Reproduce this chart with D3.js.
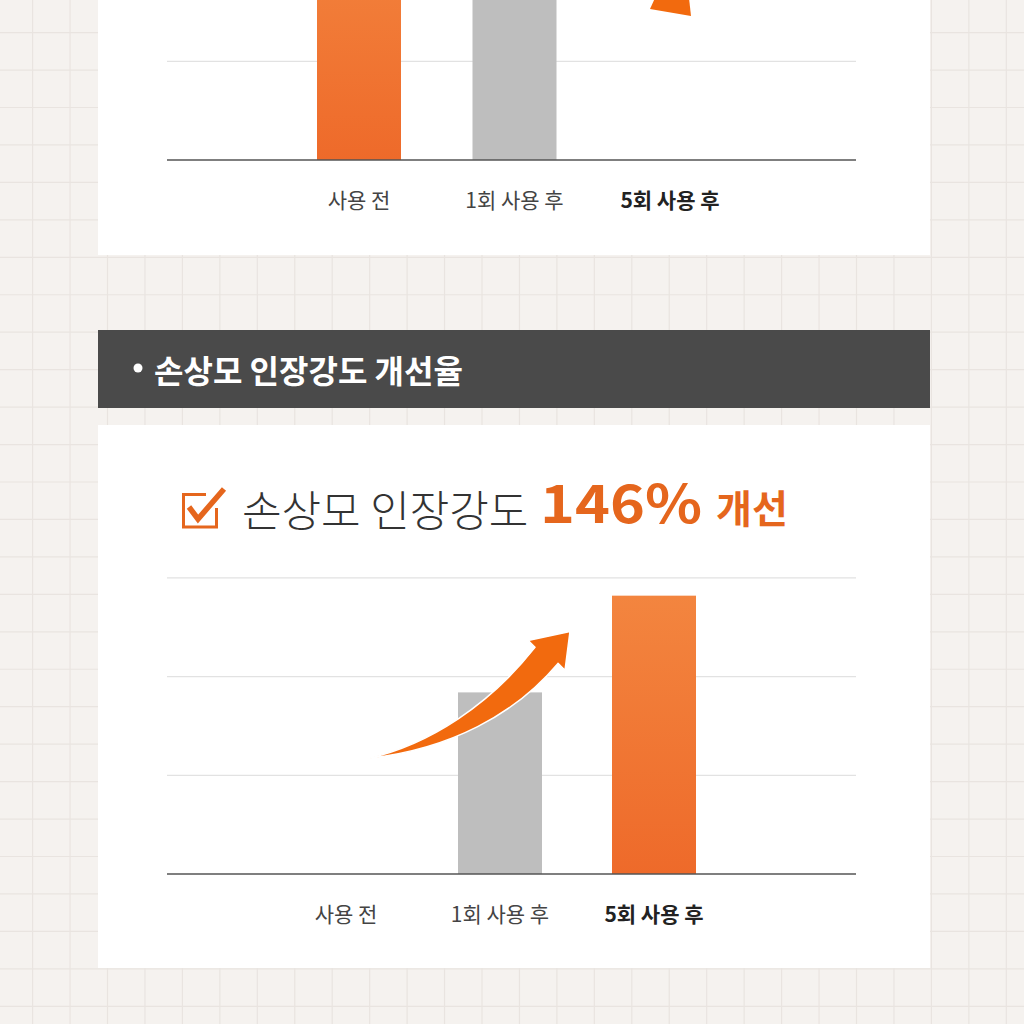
<!DOCTYPE html>
<html>
<head>
<meta charset="utf-8">
<script src="https://cdn.jsdelivr.net/npm/d3@7"></script>
<style>
  html, body { margin: 0; padding: 0; background: #f5f2ef; }
  svg { display: block; }
  text { font-family: "Noto Sans CJK KR", "Noto Sans", sans-serif; }
</style>
</head>
<body>
<svg id="chart" width="1024" height="1024"></svg>
<script>
// categories + values (units = gridline steps)
const categories = ['사용 전', '1회 사용 후', '5회 사용 후'];
const topValues = [2.4, 2.0, 0];      // upper chart, bars run off the top
const tensileValues = [0, 1.84, 2.82]; // 손상모 인장강도
const barColors = ['orange', 'gray', 'orange'];
const tensileColors = ['none', 'gray', 'orange'];
const yTicks = [1, 2, 3];

const headerTitle = '손상모 인장강도 개선율';
const chartTitle = '손상모 인장강도';
const chartRate = '146%';
const chartRateWord = '개선';

const width = 1024, height = 1024;
const svg = d3.select('#chart');

const defs = svg.append('defs');
const og = defs.append('linearGradient').attr('id', 'orangeGrad')
    .attr('x1', 0).attr('y1', 0).attr('x2', 0).attr('y2', 1);
og.append('stop').attr('offset', '0%').attr('stop-color', '#f3853f');
og.append('stop').attr('offset', '100%').attr('stop-color', '#ee6a2a');

const fill = c => c === 'orange' ? 'url(#orangeGrad)' : c === 'gray' ? '#bebebe' : 'none';

// grid paper background
const cell = 37.45, off = 32.6;
const grid = svg.append('g').attr('stroke', '#e9e4e0').attr('stroke-width', 1.2);
d3.range(off - cell, width, cell).forEach(v => {
  grid.append('line').attr('x1', v).attr('x2', v).attr('y1', 0).attr('y2', height);
  grid.append('line').attr('y1', v).attr('y2', v).attr('x1', 0).attr('x2', width);
});

// panels
svg.append('rect').attr('x', 98).attr('y', -10).attr('width', 832).attr('height', 265).attr('fill', '#fff');
svg.append('rect').attr('x', 98).attr('y', 330).attr('width', 832).attr('height', 78).attr('fill', '#4a4a4a');
svg.append('rect').attr('x', 98).attr('y', 425).attr('width', 832).attr('height', 543).attr('fill', '#fff');

// header bar
svg.append('circle').attr('cx', 138).attr('cy', 368).attr('r', 4.5).attr('fill', '#fff');
svg.append('text').attr('x', 154).attr('y', 383)
    .attr('font-size', 32).attr('font-weight', 700).attr('fill', '#fff')
    .text(headerTitle);

const yStep = 98.7;
const y = d3.scaleLinear().domain([0, 3]).range([0, 3 * yStep]);
const barW = 84;

function drawChart(baseY, xScale, values, colors, tickList) {
  const g = svg.append('g');
  g.selectAll('line.grid').data(tickList).join('line')
      .attr('class', 'grid')
      .attr('x1', 167).attr('x2', 856)
      .attr('y1', d => baseY - y(d)).attr('y2', d => baseY - y(d))
      .attr('stroke', '#e2e2e2').attr('stroke-width', 1.2);
  g.selectAll('rect.bar').data(values.map((v, i) => ({ v, c: categories[i], col: colors[i] })))
      .join('rect')
      .attr('class', 'bar')
      .attr('x', d => xScale(d.c) - barW / 2)
      .attr('y', d => baseY - y(d.v))
      .attr('width', barW)
      .attr('height', d => y(d.v))
      .attr('fill', d => fill(d.col));
  g.append('line').attr('x1', 167).attr('x2', 856).attr('y1', baseY).attr('y2', baseY)
      .attr('stroke', '#555').attr('stroke-width', 1.3);
  g.selectAll('text.lab').data(categories).join('text')
      .attr('class', 'lab')
      .attr('x', d => xScale(d))
      .attr('y', baseY + 48)
      .attr('text-anchor', 'middle')
      .attr('font-size', 21)
      .attr('font-weight', (d, i) => i === 2 ? 700 : 400)
      .attr('fill', (d, i) => i === 2 ? '#222' : '#444')
      .text(d => d);
  return g;
}

// upper chart (cropped)
const xTop = d3.scalePoint().domain(categories).range([359, 670]);
const gTop = drawChart(160, xTop, topValues, barColors, [1, 2]);
// arrow head peeking in at the top
gTop.append('path')
    .attr('transform', `translate(${xTop(categories[2])},0)`)
    .attr('d', 'M-15,-2 L19,-2 L21,16 L-20,9 Z')
    .attr('fill', '#f26a0e');

// title
const ic = svg.append('g').attr('fill', 'none').attr('stroke', '#e5661d');
ic.append('path').attr('d', 'M206,494.5 L183.5,494.5 L183.5,527 L216.5,527 L216.5,508')
    .attr('stroke-width', 3);
ic.append('path').attr('d', 'M189,507 L198,519 L224,489')
    .attr('stroke-width', 5.5).attr('stroke-linejoin', 'miter');

svg.append('text').attr('x', 242).attr('y', 527)
    .attr('font-size', 43).attr('font-weight', 300).attr('fill', '#333')
    .text(chartTitle);
svg.append('text').attr('x', 540).attr('y', 523)
    .attr('font-size', 53).attr('font-weight', 700).attr('fill', '#e5661d')
    .attr('textLength', 162).attr('lengthAdjust', 'spacingAndGlyphs')
    .text(chartRate);
svg.append('text').attr('x', 716).attr('y', 523)
    .attr('font-size', 39).attr('font-weight', 700).attr('fill', '#e5661d')
    .text(chartRateWord);

// lower chart
const xBot = d3.scalePoint().domain(categories).range([346, 654]);
const base = 874;
const gBot = drawChart(base, xBot, tensileValues, tensileColors, yTicks);

// curved rising arrow anchored to the 1회 bar top
const ax = xBot(categories[1]), ay = base - y(tensileValues[1]);
gBot.append('path')
    .attr('transform', `translate(${ax},${ay})`)
    .attr('d', 'M-132,66 C-70,52 -10,12 35,-45 L28,-52 L70,-61 L65,-22 L58,-29 C15,22 -50,57 -132,66 Z')
    .attr('fill', '#f26a0e')
    .attr('stroke', '#fff').attr('stroke-width', 1.5).attr('stroke-linejoin', 'round');
</script>
</body>
</html>
